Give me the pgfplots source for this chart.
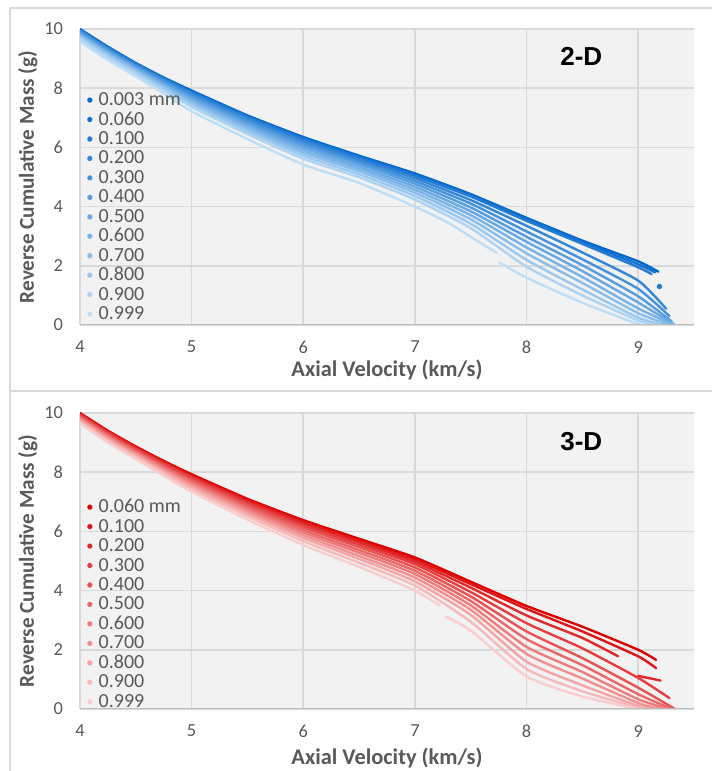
\documentclass[border=0pt]{standalone}
\usepackage{pgfplots}
\pgfplotsset{compat=1.18}
\usepackage{fontspec}
\setmainfont{Carlito}
\newfontfamily\arialfont{Liberation Sans}

% blue shades, dark to light
\definecolor{b1}{RGB}{0,102,204}
\definecolor{b2}{RGB}{17,113,208}
\definecolor{b3}{RGB}{34,124,212}
\definecolor{b4}{RGB}{52,135,216}
\definecolor{b5}{RGB}{69,146,220}
\definecolor{b6}{RGB}{86,157,224}
\definecolor{b7}{RGB}{103,167,227}
\definecolor{b8}{RGB}{120,178,231}
\definecolor{b9}{RGB}{137,189,235}
\definecolor{b10}{RGB}{155,200,239}
\definecolor{b11}{RGB}{172,211,243}
\definecolor{b12}{RGB}{189,222,247}
% red shades
\definecolor{r1}{RGB}{220,0,0}
\definecolor{r2}{RGB}{223,21,21}
\definecolor{r3}{RGB}{226,41,41}
\definecolor{r4}{RGB}{229,62,62}
\definecolor{r5}{RGB}{232,82,82}
\definecolor{r6}{RGB}{235,103,103}
\definecolor{r7}{RGB}{238,123,123}
\definecolor{r8}{RGB}{241,144,144}
\definecolor{r9}{RGB}{244,164,164}
\definecolor{r10}{RGB}{247,185,185}
\definecolor{r11}{RGB}{250,205,205}

\definecolor{txt}{RGB}{89,89,89}
\definecolor{plotbg}{RGB}{242,242,242}
\definecolor{gridc}{RGB}{217,217,217}
\definecolor{axisc}{RGB}{191,191,191}

\pgfplotsset{
  panel/.style={
    width=307pt, height=148pt, scale only axis,
    xmin=4, xmax=9.5, ymin=0, ymax=10,
    xtick={4,5,6,7,8,9}, ytick={0,2,4,6,8,10},
    grid=major, major grid style={gridc, line width=0.8pt},
    axis line style={draw=none},
    major tick length=0pt,
    axis background/.style={fill=plotbg},
    /pgf/number format/assume math mode=true,
    tick label style={font=\fontsize{9.2}{10}\selectfont, text=txt},
    xticklabel style={yshift=-4.5pt},
    yticklabel style={xshift=-5pt},
    xlabel style={font=\bfseries\fontsize{11.2}{12}\selectfont, text=txt},
    ylabel style={font=\bfseries\fontsize{10.6}{12}\selectfont, text=txt,
      at={(axis description cs:-0.085,0.5)}, anchor=center},
    xlabel={Axial Velocity (km/s)},
    ylabel={Reverse Cumulative Mass (g)},
    no markers, unbounded coords=jump,
    every axis plot/.append style={smooth, tension=0.35, line width=1.2pt, line join=round, line cap=round},
    legend cell align=left,
    legend image code/.code={\fill (0.8pt,0pt) circle (0.85pt);},
    legend style={draw=none, fill=none, anchor=north west,
      font=\fontsize{10}{11}\selectfont, text=txt,
      row sep=1.23pt, column sep=3pt, inner sep=0pt,
      nodes={inner sep=0pt, text height=7pt, text depth=1.5pt}},
  }
}

\begin{document}
\begin{tikzpicture}
\useasboundingbox (0,0) rectangle (356pt,385.5pt);
\draw[gridc, line width=0.75pt] (5pt,190pt) rectangle (360pt,381.5pt);
\draw[gridc, line width=0.75pt] (5pt,-5pt) rectangle (360pt,190pt);

% ---------------- 2-D ----------------
\begin{axis}[panel, at={(40pt,223pt)}, anchor=south west,
  xlabel style={at={(axis description cs:0.5,-0.152)}, anchor=center},
  legend style={at={(axis description cs:0.0106,0.79)}}]
\addplot[b1] coordinates {(4,10.00) (4.25,9.40) (4.5,8.85) (4.75,8.36) (5,7.92) (5.5,7.08) (6,6.35) (6.5,5.72) (7,5.12) (7.5,4.42) (8,3.62) (8.5,2.85) (9,2.15) (9.18,1.80)};
\addplot[b2] coordinates {(4,9.98) (4.25,9.38) (4.5,8.83) (4.75,8.34) (5,7.89) (5.5,7.05) (6,6.31) (6.5,5.68) (7,5.08) (7.5,4.38) (8,3.58) (8.5,2.80) (9,2.05) (9.15,1.78)};
\addplot[b3] coordinates {(4,9.97) (4.25,9.36) (4.5,8.81) (4.75,8.32) (5,7.86) (5.5,7.02) (6,6.28) (6.5,5.65) (7,5.03) (7.5,4.34) (8,3.52) (8.5,2.74) (9,1.95) (9.12,1.72)};
\addplot[b4] coordinates {(4,9.94) (4.25,9.33) (4.5,8.78) (4.75,8.28) (5,7.82) (5.5,6.96) (6,6.21) (6.5,5.58) (7,4.95) (7.5,4.22) (8,3.35) (8.5,2.45) (9,1.50) (9.25,0.55)};
\addplot[b5] coordinates {(4,9.90) (4.25,9.30) (4.5,8.75) (4.75,8.24) (5,7.76) (5.5,6.90) (6,6.14) (6.5,5.51) (7,4.86) (7.5,4.10) (8,3.16) (8.5,2.22) (9,1.22) (9.28,0.30)};
\addplot[b6] coordinates {(4,9.87) (4.25,9.26) (4.5,8.71) (4.75,8.19) (5,7.70) (5.5,6.83) (6,6.06) (6.5,5.44) (7,4.77) (7.5,3.97) (8,2.98) (8.5,2.02) (9,0.97) (9.30,0.12)};
\addplot[b7] coordinates {(4,9.83) (4.25,9.22) (4.5,8.67) (4.75,8.14) (5,7.64) (5.5,6.76) (6,5.98) (6.5,5.35) (7,4.67) (7.5,3.84) (8,2.81) (8.5,1.82) (9,0.76) (9.33,0.00)};
\addplot[b8] coordinates {(4,9.79) (4.25,9.18) (4.5,8.63) (4.75,8.10) (5,7.58) (5.5,6.69) (6,5.89) (6.5,5.27) (7,4.57) (7.5,3.71) (8,2.62) (8.5,1.62) (9,0.56) (9.32,0.00)};
\addplot[b9] coordinates {(4,9.76) (4.25,9.14) (4.5,8.59) (4.75,8.05) (5,7.51) (5.5,6.62) (6,5.81) (6.5,5.19) (7,4.47) (7.5,3.57) (8,2.42) (8.5,1.42) (9,0.40) (9.28,0.00)};
\addplot[b10] coordinates {(4,9.71) (4.25,9.09) (4.5,8.54) (4.75,7.99) (5,7.44) (5.5,6.54) (6,5.72) (6.5,5.09) (7,4.36) (7.5,3.42) (8,2.20) (8.5,1.20) (9,0.25) (9.22,0.00)};
\addplot[b11] coordinates {(4,9.67) (4.25,9.04) (4.5,8.49) (4.75,7.93) (5,7.37) (5.5,6.45) (6,5.62) (6.5,4.99) (7,4.24) (7.5,3.27) (8,1.97) (8.5,1.00) (9,0.15) (9.15,0.00)};
\addplot[b12] coordinates {(4,9.58) (4.25,8.95) (4.5,8.40) (4.75,7.82) (5,7.22) (5.5,6.28) (6,5.42) (6.5,4.80) (7,4.00) (7.3,3.45) (7.5,2.98) (7.73,2.44) (7.745,nan) (7.76,2.10) (8,1.60) (8.5,0.75) (9,0.03) (9.05,0.00)};
\addplot[b3, only marks, mark=*, mark size=0.9pt, forget plot] coordinates {(9.19,1.30)};
\legend{0.003 mm,0.060,0.100,0.200,0.300,0.400,0.500,0.600,0.700,0.800,0.900,0.999}
\draw[axisc, line width=0.8pt] (rel axis cs:0,0) -- (rel axis cs:1,0);
\node[font=\arialfont\bfseries\fontsize{13}{15}\selectfont] at (axis cs:8.49,9.07) {2-D};
\end{axis}

% ---------------- 3-D ----------------
\begin{axis}[panel, at={(40pt,31pt)}, anchor=south west,
  xlabel style={at={(axis description cs:0.5,-0.166)}, anchor=center},
  legend style={at={(axis description cs:0.0106,0.712)}}]
\addplot[r1] coordinates {(4,10.00) (4.25,9.40) (4.5,8.87) (4.75,8.38) (5,7.93) (5.5,7.10) (6,6.38) (6.5,5.75) (7,5.12) (7.5,4.30) (8,3.48) (8.5,2.78) (9,2.00) (9.16,1.66)};
\addplot[r2] coordinates {(4,9.98) (4.25,9.38) (4.5,8.85) (4.75,8.35) (5,7.89) (5.5,7.06) (6,6.33) (6.5,5.69) (7,5.05) (7.5,4.22) (8,3.38) (8.5,2.62) (9,1.78) (9.16,1.38)};
\addplot[r3] coordinates {(4,9.95) (4.25,9.35) (4.5,8.82) (4.75,8.32) (5,7.85) (5.5,7.01) (6,6.27) (6.5,5.63) (7,4.97) (7.5,4.10) (8,3.16) (8.5,2.40) (8.82,1.78) (8.9,nan) (9,1.12) (9.2,0.96)};
\addplot[r4] coordinates {(4,9.93) (4.25,9.32) (4.5,8.78) (4.75,8.28) (5,7.81) (5.5,6.95) (6,6.20) (6.5,5.55) (7,4.89) (7.5,3.95) (8,2.90) (8.5,2.05) (9,1.05) (9.28,0.37)};
\addplot[r5] coordinates {(4,9.90) (4.25,9.28) (4.5,8.74) (4.75,8.23) (5,7.75) (5.5,6.89) (6,6.13) (6.5,5.47) (7,4.78) (7.5,3.80) (8,2.62) (8.5,1.72) (9,0.72) (9.33,0.00)};
\addplot[r6] coordinates {(4,9.86) (4.25,9.24) (4.5,8.70) (4.75,8.18) (5,7.69) (5.5,6.82) (6,6.04) (6.5,5.37) (7,4.67) (7.5,3.65) (8,2.36) (8.5,1.48) (9,0.50) (9.30,0.00)};
\addplot[r7] coordinates {(4,9.83) (4.25,9.20) (4.5,8.66) (4.75,8.13) (5,7.64) (5.5,6.75) (6,5.96) (6.5,5.28) (7,4.56) (7.5,3.50) (8,2.10) (8.5,1.25) (9,0.33) (9.27,0.00)};
\addplot[r8] coordinates {(4,9.79) (4.25,9.16) (4.5,8.61) (4.75,8.08) (5,7.57) (5.5,6.67) (6,5.87) (6.5,5.17) (7,4.44) (7.5,3.35) (8,1.86) (8.5,1.03) (9,0.20) (9.20,0.00)};
\addplot[r9] coordinates {(4,9.75) (4.25,9.11) (4.5,8.57) (4.75,8.02) (5,7.51) (5.5,6.60) (6,5.78) (6.5,5.07) (7,4.31) (7.5,3.18) (8,1.60) (8.5,0.80) (9,0.10) (9.15,0.00)};
\addplot[r10] coordinates {(4,9.70) (4.25,9.06) (4.5,8.51) (4.75,7.96) (5,7.43) (5.5,6.51) (6,5.67) (6.5,4.94) (7,4.17) (7.5,2.95) (8,1.35) (8.5,0.60) (9,0.04) (9.10,0.00)};
\addplot[r11] coordinates {(4,9.65) (4.25,9.00) (4.5,8.45) (4.75,7.88) (5,7.34) (5.5,6.40) (6,5.54) (6.5,4.80) (7,4.00) (7.22,3.50) (7.25,nan) (7.28,3.12) (7.5,2.65) (8,1.10) (8.5,0.42) (9,0.00)};
\legend{0.060 mm,0.100,0.200,0.300,0.400,0.500,0.600,0.700,0.800,0.900,0.999}
\draw[axisc, line width=0.8pt] (rel axis cs:0,0) -- (rel axis cs:1,0);
\node[font=\arialfont\bfseries\fontsize{13}{15}\selectfont] at (axis cs:8.49,9.03) {3-D};
\end{axis}
\end{tikzpicture}
\end{document}
